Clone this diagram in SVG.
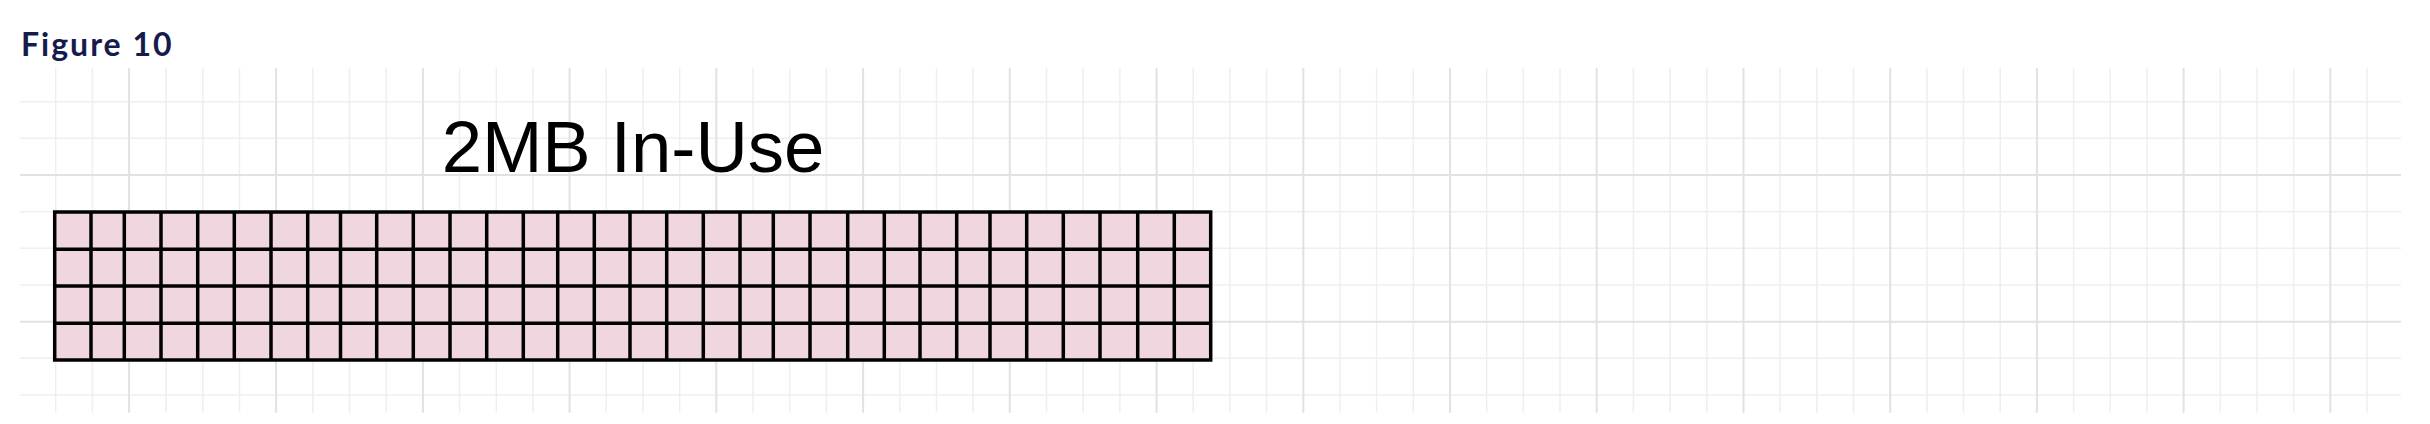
<svg xmlns="http://www.w3.org/2000/svg" width="2430" height="424" viewBox="0 0 2430 424">
<style>
.minor{stroke:#efefef;stroke-width:1.5;fill:none}
.major{stroke:#e2e2e2;stroke-width:2;fill:none}
.title{font-family:Lato,"Noto Sans",sans-serif;font-weight:700;font-size:32px;letter-spacing:2px;fill:#161b4d}
.label{font-family:"Liberation Sans",Arial,sans-serif;font-size:72.5px;fill:#000}
.cells{stroke:#000;stroke-width:3.5;fill:none}
</style>
<rect width="2430" height="424" fill="#fff"/>
<g id="background-grid">
<path class="minor" d="M55.7 68V412.7M92.4 68V412.7M166.1 68V412.7M202.8 68V412.7M239.5 68V412.7M312.8 68V412.7M349.5 68V412.7M386.2 68V412.7M459.6 68V412.7M496.3 68V412.7M532.9 68V412.7M606.3 68V412.7M643 68V412.7M679.7 68V412.7M753 68V412.7M789.7 68V412.7M826.4 68V412.7M899.8 68V412.7M936.5 68V412.7M973.1 68V412.7M1046.5 68V412.7M1083.2 68V412.7M1119.9 68V412.7M1193.2 68V412.7M1229.9 68V412.7M1266.6 68V412.7M1340 68V412.7M1376.6 68V412.7M1413.3 68V412.7M1486.7 68V412.7M1523.4 68V412.7M1560 68V412.7M1633.4 68V412.7M1670.1 68V412.7M1706.8 68V412.7M1780.1 68V412.7M1816.8 68V412.7M1853.5 68V412.7M1926.9 68V412.7M1963.5 68V412.7M2000.2 68V412.7M2073.6 68V412.7M2110.3 68V412.7M2147 68V412.7M2220.3 68V412.7M2257 68V412.7M2293.7 68V412.7M2367 68V412.7M20 101.7H2401M20 138.3H2401M20 211.7H2401M20 248.3H2401M20 285H2401M20 358.3H2401M20 395H2401"/>
<path class="major" d="M129.1 68V412.7M276.1 68V412.7M422.9 68V412.7M569.6 68V412.7M716.3 68V412.7M863.1 68V412.7M1009.8 68V412.7M1156.6 68V412.7M1303.3 68V412.7M1450 68V412.7M1596.7 68V412.7M1743.5 68V412.7M1890.2 68V412.7M2036.9 68V412.7M2183.6 68V412.7M2330.3 68V412.7M20 175H2401M20 321.7H2401"/>
</g>
<g id="figure-title">
<text class="title" x="21" y="56">Figure 10</text>
</g>
<g id="block-label">
<text class="label" x="633" y="172" text-anchor="middle">2MB In-Use</text>
</g>
<g id="memory-block">
<rect x="54.7" y="212" width="1156" height="148" fill="#efd6df"/>
<path class="cells" d="M91 212V360M124.3 212V360M161 212V360M197.7 212V360M234.3 212V360M271 212V360M307.7 212V360M340.5 212V360M376.7 212V360M413.3 212V360M450 212V360M486.7 212V360M523.3 212V360M557.7 212V360M594.3 212V360M630 212V360M666.7 212V360M703.3 212V360M740 212V360M773.3 212V360M810 212V360M847.7 212V360M884.3 212V360M920 212V360M956.7 212V360M990 212V360M1026.7 212V360M1063.3 212V360M1100 212V360M1137.7 212V360M1174.3 212V360M54.7 249.3H1210.7M54.7 286H1210.7M54.7 323.3H1210.7"/>
<rect class="cells" x="54.7" y="212" width="1156" height="148"/>
</g>
</svg>
